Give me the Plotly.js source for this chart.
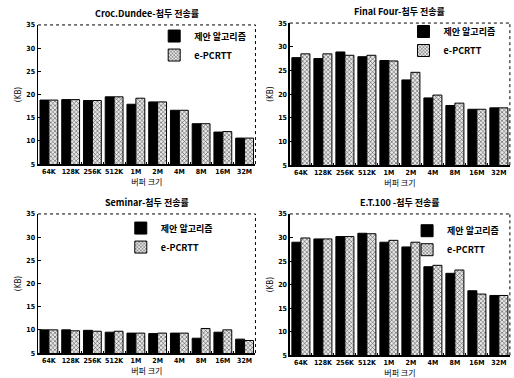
<!DOCTYPE html>
<html><head><meta charset="utf-8">
<script src="https://cdn.plot.ly/plotly-3.0.1.min.js"></script>
<style>body{margin:0;padding:0;background:#fff}#chart{width:514px;height:378px}</style>
</head><body><div id="chart"></div>
<script>
const categories = ["64K","128K","256K","512K","1M","2M","4M","8M","16M","32M"];
const titles = ["Croc.Dundee-첨두 전송률","Final Four-첨두 전송률","Seminar-첨두 전송률","E.T.100 -첨두 전송률"];
const seriesNames = ["제안 알고리즘","e-PCRTT"];
const crocProposed = [18.8,18.9,18.7,19.5,17.9,18.4,16.6,13.7,11.9,10.6];
const crocPcrtt    = [18.8,18.9,18.7,19.5,19.2,18.4,16.6,13.7,12.0,10.6];
const finalProposed = [27.7,27.5,28.9,27.9,27.1,23.0,19.2,17.6,16.8,17.1];
const finalPcrtt    = [28.5,28.5,28.2,28.2,27.0,24.6,19.8,18.1,16.8,17.1];
const seminarProposed = [10.0,10.0,9.9,9.5,9.3,9.2,9.3,8.2,9.5,8.0];
const seminarPcrtt    = [10.0,9.8,9.7,9.7,9.3,9.3,9.3,10.3,10.0,7.7];
const etProposed = [29.0,29.7,30.2,30.9,29.0,28.0,23.8,22.4,18.7,17.7];
const etPcrtt    = [29.9,29.7,30.2,30.8,29.4,29.0,24.1,23.1,18.0,17.7];
const yTicks = [5,10,15,20,25,30,35];
const xLabel = "버퍼 크기";
const yLabel = "(KB)";

const panels = [[crocProposed,crocPcrtt],[finalProposed,finalPcrtt],[seminarProposed,seminarPcrtt],[etProposed,etPcrtt]];
const xDomains = [[0.074,0.497],[0.564,0.992],[0.074,0.497],[0.564,0.992]];
const yDomains = [[0.566,0.934],[0.563,0.939],[0.066,0.434],[0.06,0.434]];
const legendPos = [[0.30,0.943],[0.785,0.955],[0.235,0.435],[0.792,0.428]];
const tickFont = {family:"DejaVu Sans Condensed, Liberation Sans", size:7, color:"#000", weight:"bold"};
const layout = {
  width:514, height:378, margin:{l:0,r:0,t:0,b:0}, paper_bgcolor:"#fff", plot_bgcolor:"#fff",
  barmode:"group", bargap:0.18, bargroupgap:0, annotations:[], shapes:[]
};
const data = [];
panels.forEach((p,i)=>{
  const n = i+1;
  const xa = "x"+(n===1?"":n), ya = "y"+(n===1?"":n);
  const lg = "legend"+(n===1?"":n);
  data.push({type:"bar", x:categories, y:p[0], name:seriesNames[0], xaxis:xa, yaxis:ya, legend:lg,
    marker:{color:"#000", line:{color:"#000", width:1}}});
  data.push({type:"bar", x:categories, y:p[1], name:seriesNames[1], xaxis:xa, yaxis:ya, legend:lg,
    marker:{color:"#d8d8d8", line:{color:"#000", width:1},
      pattern:{shape:"x", fgcolor:"#333", bgcolor:"#e8e8e8", size:3, solidity:0.3}}});
  const xk = "xaxis"+(n===1?"":n), yk = "yaxis"+(n===1?"":n);
  layout[xk] = {domain:xDomains[i], anchor:ya, type:"category", showline:true, linecolor:"#000", linewidth:1.5,
    ticks:"inside", tickson:"boundaries", ticklen:2, tickcolor:"#000", tickangle:0, tickfont:tickFont, showgrid:false,
    title:{text:xLabel, font:{family:"Noto Sans CJK KR", size:8, color:"#000"}, standoff:1}};
  layout[yk] = {domain:yDomains[i], anchor:xa, range:[5,35], tickvals:yTicks, showline:true, linecolor:"#000", linewidth:1.5,
    ticks:"inside", ticklen:3, tickcolor:"#000", tickfont:tickFont, showgrid:false, zeroline:false,
    title:{text:yLabel, font:{family:"DejaVu Sans Condensed, Liberation Sans", size:8, color:"#000"}, standoff:3}};
  layout[lg] = {x:legendPos[i][0], y:legendPos[i][1], xanchor:"left", yanchor:"top", bgcolor:"rgba(0,0,0,0)",
    font:{family:"Noto Sans CJK KR", size:9, color:"#000", weight:"bold"}, tracegroupgap:0, itemwidth:30,
    traceorder:"normal"};
  layout.shapes.push({type:"line", xref:xa+" domain", yref:ya+" domain", x0:0, x1:1, y0:1, y1:1, line:{color:"#000", width:1, dash:"dot"}});
  layout.shapes.push({type:"line", xref:xa+" domain", yref:ya+" domain", x0:1, x1:1, y0:0, y1:1, line:{color:"#000", width:1, dash:"dot"}});
  layout.annotations.push({text:titles[i], xref:xa+" domain", yref:ya+" domain", x:0.5, y:1.02, xanchor:"center", yanchor:"bottom",
    showarrow:false, font:{family:"Noto Sans CJK KR", size:9, color:"#000", weight:"bold"}});
});
Plotly.newPlot("chart", data, layout, {displayModeBar:false, staticPlot:true});
</script></body></html>
